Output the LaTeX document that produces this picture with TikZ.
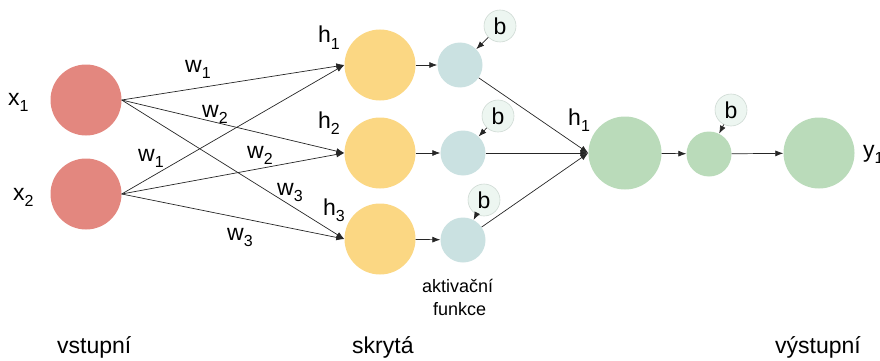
\documentclass[tikz,border=0pt]{standalone}
\usepackage{fontspec}
\setmainfont{Liberation Sans}
\usetikzlibrary{arrows.meta}
\definecolor{cred}{HTML}{E3877F}
\definecolor{cyel}{HTML}{FBD783}
\definecolor{cteal}{HTML}{CAE1E1}
\definecolor{cgreen}{HTML}{BADBBA}
\definecolor{cbfill}{HTML}{EDF6F1}
\definecolor{cbdraw}{HTML}{CFDAD4}
\newcommand\lsub[1]{\raisebox{-0.3em}{\fontsize{16}{16}\selectfont #1}}
\begin{document}
\begin{tikzpicture}[x=1pt,y=-1pt,
  neuron/.style={circle,inner sep=0pt,draw=none},
  bnode/.style={circle,inner sep=0pt,minimum size=32pt,fill=cbfill,draw=cbdraw,line width=0.6pt,font=\fontsize{23}{25}\selectfont},
  lab/.style={inner sep=0pt,anchor=base west,font=\fontsize{23}{25}\selectfont},
  small/.style={inner sep=0pt,anchor=base west,font=\fontsize{18}{22}\selectfont},
  arr/.style={-{Latex[length=8pt,width=6pt]},line width=0.7pt,draw=black!85}]
\useasboundingbox (0,0) rectangle (880,361);
% input layer
\node[neuron,fill=cred,minimum size=71pt] (x1) at (86,100) {};
\node[neuron,fill=cred,minimum size=71pt] (x2) at (86,194) {};
\node[lab] (lx1) at (8,105) {x\lsub{1}};
\node[lab] (lx2) at (13,200) {x\lsub{2}};
% hidden layer
\node[neuron,fill=cyel,minimum size=71pt] (h1) at (380,65) {};
\node[neuron,fill=cyel,minimum size=71pt] (h2) at (380,153) {};
\node[neuron,fill=cyel,minimum size=71pt] (h3) at (380,239) {};
\node[lab] (lh1) at (318,43) {h\lsub{1}};
\node[lab] (lh2) at (318,128) {h\lsub{2}};
\node[lab] (lh3) at (323,215) {h\lsub{3}};
% activation
\node[neuron,fill=cteal,minimum size=45pt] (a1) at (460,65) {};
\node[neuron,fill=cteal,minimum size=45pt] (a2) at (463,153) {};
\node[neuron,fill=cteal,minimum size=45pt] (a3) at (463,240) {};
\node[bnode] (b1) at (500,26) {b};
\node[bnode] (b2) at (498,116) {b};
\node[bnode] (b3) at (484,200) {b};
\node[small] (akt1) at (422,292) {aktivační};
\node[small] (akt2) at (433,315) {funkce};
% output
\node[neuron,fill=cgreen,minimum size=73pt] (o1) at (625,153) {};
\node[neuron,fill=cgreen,minimum size=45pt] (o2) at (709,154) {};
\node[neuron,fill=cgreen,minimum size=71pt] (y1) at (819,153) {};
\node[bnode] (b4) at (731,110) {b};
\node[lab] (lo1) at (568,125) {h\lsub{1}};
\node[lab] (ly1) at (863,157) {y\lsub{1}};
% weights
\node[lab] (w11) at (185,72) {w\lsub{1}};
\node[lab] (w12) at (202,117) {w\lsub{2}};
\node[lab] (w21) at (138,161) {w\lsub{1}};
\node[lab] (w22) at (247,158) {w\lsub{2}};
\node[lab] (w13) at (277,195) {w\lsub{3}};
\node[lab] (w23) at (227,240) {w\lsub{3}};
% layer labels
\node[lab] (lin) at (57,353) {vstupní};
\node[lab] (lhid) at (352,353) {skrytá};
\node[lab] (lout) at (775,353) {výstupní};
% connections
\foreach \s in {x1,x2}
  \foreach \t in {h1,h2,h3}
    \draw[arr] (\s.east) -- (\t.west);
\draw[arr] (h1) -- (a1);
\draw[arr] (h2) -- (a2);
\draw[arr] (h3) -- (a3);
\draw[arr] (b1) -- (a1);
\draw[arr] (b2) -- (a2);
\draw[arr] (b3) -- (a3);
\draw[arr] (a1) -- (o1.west);
\draw[arr] (a2) -- (o1.west);
\draw[arr] (a3) -- (o1.west);
\draw[arr] (o1) -- (o2);
\draw[arr] (o2) -- (y1);
\draw[arr] (b4) -- (o2);
\end{tikzpicture}
\end{document}
